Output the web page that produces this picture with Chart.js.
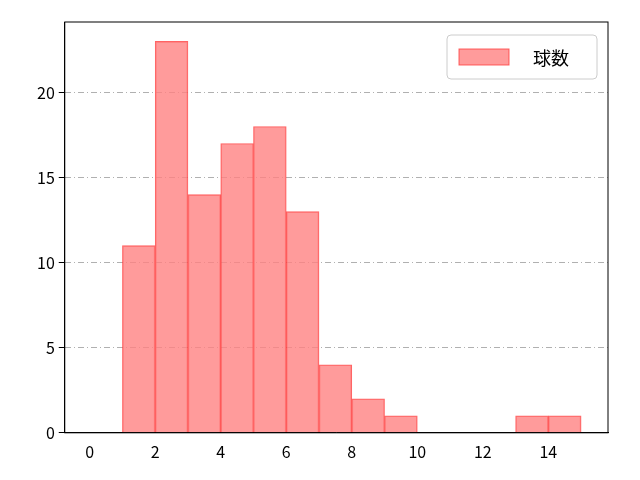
<!DOCTYPE html>
<html><head><meta charset="utf-8">
<script src="https://cdn.jsdelivr.net/npm/chart.js@4"></script>
<style>body{margin:0;background:#fff}#w{width:640px;height:480px}</style>
</head><body><div id="w"><canvas id="c"></canvas></div>
<script>
const binCenters=[1.5,2.5,3.5,4.5,5.5,6.5,7.5,8.5,9.5,10.5,11.5,12.5,13.5,14.5];
const counts=[11,23,14,17,18,13,4,2,1,0,0,0,1,1];
const xTicks=[0,2,4,6,8,10,12,14];
const yTicks=[0,5,10,15,20];
const seriesName='球数';
const fill='rgba(255,130,130,0.8)', edge='rgba(255,60,60,0.8)';
Chart.defaults.font.family='"Noto Sans CJK JP","DejaVu Sans",sans-serif';
Chart.defaults.font.size=16;
Chart.defaults.color='#000';
new Chart(document.getElementById('c'),{
type:'bar',
data:{datasets:[{label:seriesName,data:binCenters.map((x,i)=>({x:x,y:counts[i]})),
backgroundColor:fill,borderColor:edge,borderWidth:1,
barPercentage:1,categoryPercentage:1,grouped:false}]},
options:{animation:false,responsive:true,maintainAspectRatio:false,
layout:{padding:{left:33,right:32,top:22,bottom:14}},
plugins:{legend:{display:false},tooltip:{enabled:false}},
scales:{
x:{type:'linear',offset:false,min:-0.76,max:15.82,afterBuildTicks:s=>{s.ticks=xTicks.map(v=>({value:v}))},
grid:{display:false,drawTicks:true,tickLength:6},border:{color:'#000',width:1},ticks:{font:{size:16},padding:4}},
y:{min:0,max:24.14,afterBuildTicks:s=>{s.ticks=yTicks.map(v=>({value:v}))},
grid:{color:'#b0b0b0',tickLength:6,tickColor:'#000',lineWidth:1},border:{color:'#000',width:1,dash:[6,3,1,3]},ticks:{font:{size:16},padding:4}}
}},
plugins:[{id:'frame',afterDraw(ch){const a=ch.chartArea,g=ch.ctx;g.save();g.strokeStyle='#000';g.lineWidth=1;g.setLineDash([]);g.strokeRect(a.left,a.top,a.right-a.left,a.bottom-a.top);
// legend
const x0=a.right-161,y0=a.top+13,w=150,h=44;
g.strokeStyle='#ccc';g.fillStyle='rgba(255,255,255,0.8)';g.beginPath();g.roundRect(x0,y0,w,h,4);g.fill();g.stroke();
g.fillStyle=fill;g.strokeStyle=edge;g.fillRect(x0+12,y0+14,50,16);g.strokeRect(x0+12,y0+14,50,16);
g.fillStyle='#000';g.font='18px "Noto Sans CJK JP"';g.textBaseline='middle';g.fillText(seriesName,x0+86,y0+23);
g.restore();}}]
});
</script></body></html>
